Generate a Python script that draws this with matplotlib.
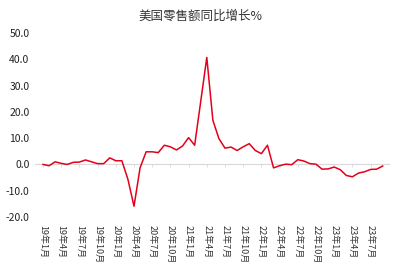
import matplotlib
matplotlib.use("Agg")
import matplotlib.pyplot as plt

plt.rcParams['font.family'] = ['Noto Sans CJK SC', 'DejaVu Sans']

title = "美国零售额同比增长%"
values = [0.0, -0.5, 1.0, 0.4, 0.0, 0.8, 0.9, 1.7, 1.0, 0.3, 0.3, 2.5,
          1.4, 1.4, -5.7, -15.9, -1.3, 4.8, 4.8, 4.5, 7.3, 6.7, 5.5, 7.0,
          10.2, 7.3, 24.0, 40.7, 16.8, 9.8, 6.2, 6.6, 5.3, 6.7, 7.9, 5.3,
          4.1, 7.3, -1.3, -0.5, 0.1, -0.1, 1.8, 1.3, 0.3, 0.1, -1.8, -1.7,
          -1.0, -2.0, -4.2, -4.7, -3.3, -2.8, -1.9, -1.8, -0.6]
tick_labels = ["19年1月", "19年4月", "19年7月", "19年10月", "20年1月", "20年4月",
               "20年7月", "20年10月", "21年1月", "21年4月", "21年7月", "21年10月",
               "22年1月", "22年4月", "22年7月", "22年10月", "23年1月", "23年4月", "23年7月"]
y_ticks = [50, 40, 30, 20, 10, 0, -10, -20]

fig = plt.figure(figsize=(4.0, 2.69), dpi=100)
ax = fig.add_axes([35/400, 1-217/269, 355/400, (217-33)/269])
x = list(range(len(values)))
ax.axhline(0, color='#d9d9d9', lw=0.8, zorder=1)
tick_pos = list(range(0, len(values), 3))
ax.vlines(tick_pos, -0.8, 0, color='#d9d9d9', lw=0.6, zorder=1)
ax.plot(x, values, color='#e3001b', lw=1.1, zorder=3)
ax.set_xlim(-1.32, 57.2)
ax.set_ylim(-20, 50)
ax.set_yticks(y_ticks)
ax.set_yticklabels([f"{v:.1f}" for v in y_ticks], fontsize=7.5, color='#222222')
ax.set_xticks(tick_pos)
ax.set_xticklabels(tick_labels, rotation=-90, fontsize=6.5, color='#333333', va='top')
ax.tick_params(axis='both', length=0)
ax.tick_params(axis='x', pad=6)
ax.tick_params(axis='y', pad=4)
for s in ax.spines.values():
    s.set_visible(False)
fig.text(0.5, 1-16/269, title, ha='center', va='center', fontsize=9, color='#333333')
fig.savefig("out.png", dpi=100)
